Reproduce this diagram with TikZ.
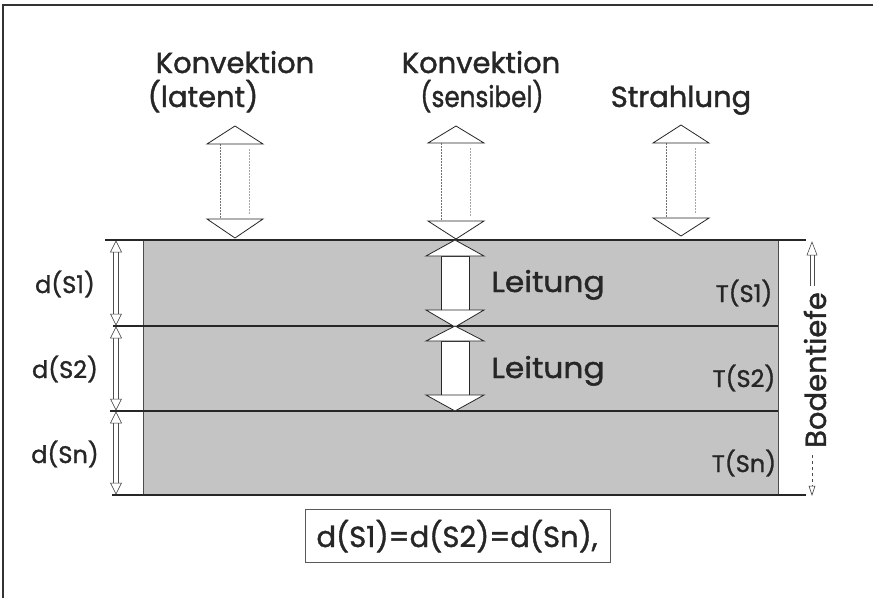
\documentclass[tikz,border=0pt]{standalone}
\usepackage{fontspec}
\setmainfont{Poppins}
\newfontfamily\lblfont{Poppins}[FakeBold=1.3]
\begin{document}
\begin{tikzpicture}[x=1pt,y=-1pt,
  lbl/.style={font=\lblfont\fontsize{29}{32}\selectfont, inner sep=0pt, text=black!85},
  smalllbl/.style={font=\lblfont\fontsize{24}{28}\selectfont, inner sep=0pt, text=black!85},
  rule/.style={line width=1.1pt, black!85},
  head/.style={draw=black!85, fill=white, line width=0.8pt, line join=miter},
  shaftair/.style={black!55, line width=0.6pt, dash pattern=on 2pt off 1pt},
  shaftsoil/.style={draw=black!85, fill=white, line width=0.7pt},
  dimline/.style={black!70, line width=0.5pt},
  dimhead/.style={draw=black!80, fill=white, line width=0.5pt}
]
\useasboundingbox (0,0) rectangle (873,598);
\fill[white] (0,0) rectangle (873,598);

% outer frame (top and left edges only)
\draw[black!80, line width=1.2pt] (3,598) -- (3,5) -- (873,5);

% soil layers
\fill[black!23] (143,240) rectangle (778,495);
\draw[black!70, line width=0.6pt] (143,240) -- (143,495) (778,240) -- (778,495);
\draw[rule] (105,240) -- (806,240);
\draw[rule] (113,326) -- (778,326);
\draw[rule] (110,411) -- (778,411);
\draw[rule] (112,495) -- (806,495);

% hollow double arrows in the air: x, y tip top, y base top, y base bottom, y tip bottom
\newcommand\airarrow[5]{%
  \draw[shaftair] (#1-15,#3) -- (#1-15,#4);
  \draw[shaftair, black!35] (#1+14,#3+5) -- (#1+14,#4-5);
  \draw[head] (#1,#2) -- (#1+28,#3) -- (#1-28,#3) -- cycle;
  \draw[head] (#1,#5) -- (#1+28,#4) -- (#1-28,#4) -- cycle;
}
\airarrow{235}{126}{144}{219}{238}
\airarrow{456}{126}{143}{221}{239}
\airarrow{681}{125}{143}{218}{236}

% heat conduction arrows in the soil
\newcommand\soilarrow[5]{%
  \filldraw[shaftsoil] (#1-14,#3) rectangle (#1+14,#4);
  \draw[head] (#1,#2) -- (#1+29,#3) -- (#1-29,#3) -- cycle;
  \draw[head] (#1,#5) -- (#1+29,#4) -- (#1-29,#4) -- cycle;
}
\soilarrow{455}{240}{256}{310}{327}
\soilarrow{455}{326}{341}{395}{411}

% layer thickness markers
\newcommand\dimarrow[3]{%
  \draw[dimline] (#1-2.5,#2+10) -- (#1-2.5,#3-10) (#1+2.5,#2+10) -- (#1+2.5,#3-10);
  \draw[dimhead] (#1,#2) -- (#1+5.5,#2+11) -- (#1-5.5,#2+11) -- cycle;
  \draw[dimhead] (#1,#3) -- (#1+5.5,#3-11) -- (#1-5.5,#3-11) -- cycle;
}
\dimarrow{116}{241}{325}
\dimarrow{116}{327}{410}
\dimarrow{116}{412}{494}

% soil depth arrow
\draw[dimline] (810,255) -- (810,286) (814,255) -- (814,286);
\draw[dimhead] (812,242) -- (817,255) -- (807,255) -- cycle;
\draw[dimline, dashed] (812,455) -- (812,486);
\draw[dimhead] (812,495) -- (815,486) -- (809,486) -- cycle;
\node[lbl, rotate=90] (depth) at (815,370) {Bodentiefe};

% labels above the surface
\node[lbl, anchor=base] (k1) at (235,73) {Konvektion};
\node[lbl, anchor=base] (k1b) at (203,107) {(latent)};
\node[lbl, anchor=base] (k2) at (481,73) {Konvektion};
\node[lbl, anchor=base, xscale=0.85] (k2b) at (482,107) {(sensibel)};
\node[lbl, anchor=base] (st) at (681,107) {Strahlung};

% labels in the soil
\node[lbl, anchor=base, xscale=1.08] (l1) at (548,292) {Leitung};
\node[lbl, anchor=base, xscale=1.08] (l2) at (548,378) {Leitung};
\node[smalllbl, anchor=base] (t1) at (744,302) {T(S1)};
\node[smalllbl, anchor=base] (t2) at (744,387) {T(S2)};
\node[smalllbl, anchor=base] (tn) at (744,472) {T(Sn)};

% layer thickness labels
\node[smalllbl, anchor=base] (d1) at (65,293) {d(S1)};
\node[smalllbl, anchor=base] (d2) at (65,378) {d(S2)};
\node[smalllbl, anchor=base] (dn) at (65,463) {d(Sn)};

% equal thickness note
\draw[black!65, line width=0.7pt] (305,509) rectangle (610,562);
\node[lbl, anchor=base] (eq) at (457,547) {d(S1)=d(S2)=d(Sn),};
\end{tikzpicture}
\end{document}
